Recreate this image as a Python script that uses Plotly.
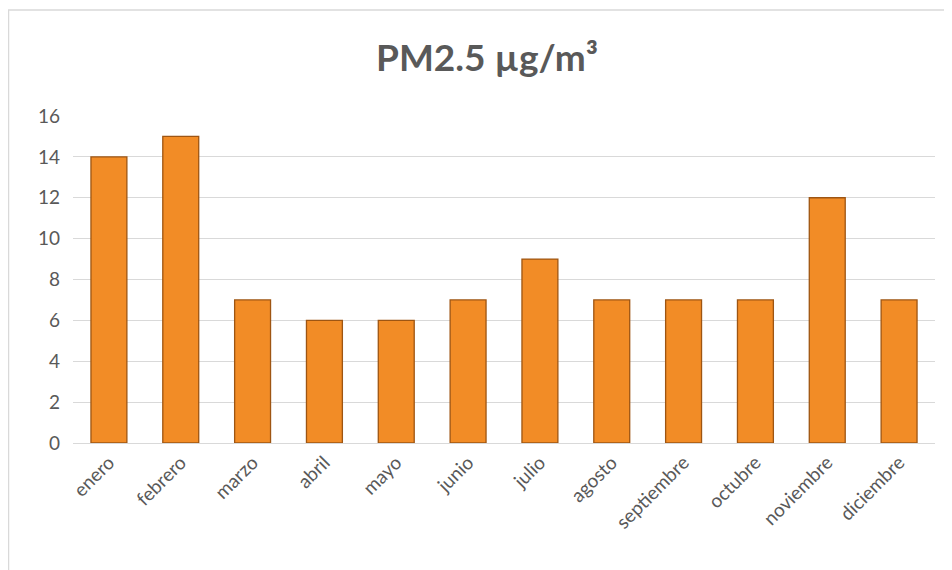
import plotly.graph_objects as go

# Monthly PM2.5 values
meses = ["enero", "febrero", "marzo", "abril", "mayo", "junio",
         "julio", "agosto", "septiembre", "octubre", "noviembre", "diciembre"]
pm25 = [14, 15, 7, 6, 6, 7, 9, 7, 7, 7, 12, 7]
y_ticks = [0, 2, 4, 6, 8, 10, 12, 14, 16]

# page has an 8px body margin, so the figure is sized to fit the window
W, H = 944, 562
L, R, T, B = 65, 17, 108, 127

fig = go.Figure(go.Bar(
    x=meses,
    y=pm25,
    marker=dict(color="#F28C26", line=dict(color="#9E5512", width=1.3)),
    hoverinfo="x+y",
))

# chart border like the Excel chart area
pw, ph = W - L - R, H - T - B
fig.add_shape(type="rect", xref="paper", yref="paper",
              x0=(0.5 - L) / pw, x1=(W + 20 - L) / pw,
              y0=(-20 - B) / ph, y1=(H - 2 - B) / ph,
              line=dict(color="#D9D9D9", width=1.5), fillcolor="rgba(0,0,0,0)",
              layer="below")

fig.update_layout(
    width=W, height=H,
    margin=dict(l=L, r=R, t=T, b=B),
    paper_bgcolor="white", plot_bgcolor="white",
    font=dict(family="Lato, 'Open Sans', sans-serif", size=19, color="#595959"),
    title=dict(text="<b>PM2.5 µg/m³</b>", x=479 / W, xanchor="center", y=1 - 50 / H,
               yanchor="middle", font=dict(size=37, color="#595959")),
    bargap=0.5,
    showlegend=False,
    xaxis=dict(tickangle=-45, showgrid=False, showline=True, linecolor="#D9D9D9",
               linewidth=1, ticks="", tickfont=dict(size=19)),
    yaxis=dict(range=[0, 16], tickvals=y_ticks, showgrid=True, gridcolor="#D9D9D9",
               gridwidth=1, zeroline=False, ticks="", tickfont=dict(size=19),
               ticklabelstandoff=12),
)

fig.write_html("out.html")
